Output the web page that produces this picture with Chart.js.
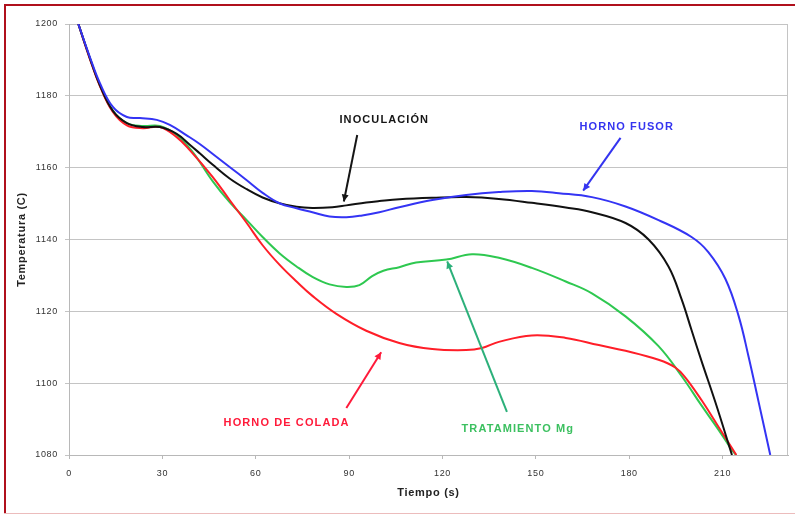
<!DOCTYPE html>
<html><head><meta charset="utf-8">
<script src="https://cdn.jsdelivr.net/npm/chart.js@4.4.1/dist/chart.umd.min.js"></script>
<style>html,body{margin:0;padding:0;background:#fff;overflow:hidden}canvas{display:block}</style>
</head><body><canvas id="c" width="795" height="514"></canvas>
<script>
// ---- axis ticks ----
const xTicks = [0, 30, 60, 90, 120, 150, 180, 210];
const yTicks = [1080, 1100, 1120, 1140, 1160, 1180, 1200];

// ---- HORNO FUSOR (blue) ----
const fusorTime = [3, 6.7, 9.9, 14.1, 18.6, 22.8, 28.2, 32.4, 37.8, 42, 46.2, 51.6, 57.1, 62.2, 67.6, 73.1, 78.2, 83.7, 89.1, 94.2, 99.7, 106.1, 116.7, 127.6, 138.1, 148.7, 157.4, 168, 178.8, 189.4, 200, 205.4, 210.9, 215.1, 218.3, 221.5, 225.3];
const fusorTemp = [1200, 1190.8, 1183.6, 1176.9, 1174.1, 1173.8, 1173.3, 1171.9, 1169.0, 1166.6, 1163.8, 1160.2, 1156.5, 1153.0, 1150.1, 1148.7, 1147.6, 1146.4, 1146.2, 1146.7, 1147.6, 1149.0, 1151.0, 1152.4, 1153.2, 1153.5, 1152.9, 1151.8, 1149.2, 1145.4, 1140.7, 1136.5, 1129.0, 1118.8, 1107.5, 1095.0, 1080];

// ---- INOCULACIÓN (black) ----
const inocTime = [3, 6.7, 9.9, 14.1, 18.6, 23.7, 29.2, 34.6, 38.8, 42, 46.2, 51.6, 57.1, 62.2, 67.6, 73.1, 78.2, 84.6, 89.1, 95.5, 99.7, 106.1, 116.7, 127.6, 138.1, 148.7, 159.6, 168, 178.8, 186.2, 192.6, 196.8, 200, 203.2, 207.7, 213];
const inocTemp = [1200, 1190.5, 1183, 1175.8, 1172.4, 1171.3, 1171.3, 1169.4, 1166.4, 1164.0, 1160.8, 1157.0, 1154.0, 1151.7, 1150.1, 1149.1, 1148.8, 1149.0, 1149.5, 1150.3, 1150.7, 1151.2, 1151.6, 1151.8, 1151.3, 1150.2, 1148.9, 1147.6, 1144.6, 1140.0, 1132.5, 1123.4, 1114.8, 1106.2, 1094.6, 1080];

// ---- HORNO DE COLADA (red) ----
const coladaTime = [3, 6.7, 9.9, 14.1, 18.6, 23.7, 29.2, 34.6, 38.8, 46.2, 51.6, 57.1, 62.2, 67.6, 73.1, 78.2, 85.9, 95.5, 106.1, 116.7, 127.6, 132.7, 138.1, 148.7, 159.6, 170.2, 178.8, 189.4, 194.9, 198.1, 203.2, 208.7, 214.4];
const coladaTemp = [1200, 1190.3, 1182.8, 1175.5, 1171.8, 1171.0, 1171.3, 1168.5, 1164.9, 1157.4, 1151.0, 1144.6, 1138.4, 1133.0, 1128.3, 1124.3, 1119.3, 1114.6, 1111.2, 1109.5, 1109.2, 1109.8, 1111.5, 1113.3, 1112.6, 1110.6, 1109.0, 1106.5, 1104.3, 1101.5, 1095.3, 1087.8, 1080];

// ---- TRATAMIENTO Mg (green) ----
const tratTime = [3, 6.7, 9.9, 14.1, 18.6, 23.7, 29.2, 34.6, 39.7, 46.2, 51.6, 57.1, 62.2, 67.6, 73.1, 78.2, 83.7, 89.1, 93.3, 97.4, 101, 106.1, 111.5, 121.2, 129.5, 138.1, 148.7, 159.6, 168, 178.8, 189.4, 196.8, 203.2, 208.7, 212.8, 214.3];
const tratTemp = [1200, 1190.5, 1183, 1175.8, 1172.4, 1171.6, 1171.6, 1169.1, 1164.4, 1156.2, 1150.4, 1145.4, 1140.7, 1136.2, 1132.5, 1129.6, 1127.5, 1126.8, 1127.3, 1129.8, 1131.3, 1132.3, 1133.6, 1134.4, 1135.9, 1134.9, 1132.1, 1128.3, 1125.0, 1118.6, 1110.3, 1102.0, 1093.8, 1087.0, 1081.6, 1080];

// ---- series names / colours ----
const seriesNames = ['HORNO FUSOR', 'INOCULACIÓN', 'HORNO DE COLADA', 'TRATAMIENTO Mg'];
const seriesColors = ['#3434f4', '#111111', '#ff1e28', '#2ec850'];

function pts(t, v) { return t.map((x, i) => ({ x: x, y: v[i] })); }

// annotation labels (data coordinates)
const notes = [
  { text: 'INOCULACIÓN', color: '#151515', at: [101.3, 1173.3], from: [92.6, 1169.1], to: [88.3, 1150.6] },
  { text: 'HORNO FUSOR', color: '#3434f0', at: [179.2, 1171.3], from: [177.2, 1168.3], to: [165.2, 1153.6] },
  { text: 'HORNO DE COLADA', color: '#ff1a3a', at: [69.9, 1088.9], from: [89.1, 1093.1], to: [100.3, 1108.6] },
  { text: 'TRATAMIENTO Mg', color: '#3cc060', at: [144.2, 1087.2], from: [140.7, 1092.0], to: [121.5, 1133.9], lineColor: '#2cb07a' }
];

const framePlugin = {
  id: 'frame',
  beforeDraw(chart) {
    const c = chart.ctx;
    c.save();
    c.fillStyle = '#ffffff';
    c.fillRect(0, 0, chart.width, chart.height);
    c.fillStyle = '#b0101c';
    c.fillRect(4, 4, chart.width - 4, 2);
    c.fillRect(4, 4, 2, chart.height - 4);
    c.fillStyle = '#ecbcbc';
    c.fillRect(4, chart.height - 1, chart.width - 4, 1);
    c.restore();
    c.letterSpacing = '0.7px';
  },
  beforeDatasetsDraw(chart) {
    const c = chart.ctx, a = chart.chartArea;
    c.save();
    c.strokeStyle = '#c4c4c4';
    c.lineWidth = 1;
    c.beginPath();
    c.moveTo(Math.round(a.right) - 0.5, a.top);
    c.lineTo(Math.round(a.right) - 0.5, a.bottom);
    c.stroke();
    c.restore();
  },
  afterDatasetsDraw(chart) {
    const c = chart.ctx, xs = chart.scales.x, ys = chart.scales.y;
    c.save();
    c.font = 'bold 11px "Liberation Sans", Arial, sans-serif';
    c.letterSpacing = '1.1px';
    c.textAlign = 'center';
    c.textBaseline = 'middle';
    notes.forEach(n => {
      const x0 = xs.getPixelForValue(n.from[0]), y0 = ys.getPixelForValue(n.from[1]);
      const x1 = xs.getPixelForValue(n.to[0]), y1 = ys.getPixelForValue(n.to[1]);
      const col = n.lineColor || n.color;
      c.strokeStyle = col; c.fillStyle = col; c.lineWidth = 2;
      c.beginPath(); c.moveTo(x0, y0); c.lineTo(x1, y1); c.stroke();
      const ang = Math.atan2(y1 - y0, x1 - x0), L = 7, W = 3.5;
      c.beginPath();
      c.moveTo(x1, y1);
      c.lineTo(x1 - L * Math.cos(ang) + W * Math.sin(ang), y1 - L * Math.sin(ang) - W * Math.cos(ang));
      c.lineTo(x1 - L * Math.cos(ang) - W * Math.sin(ang), y1 - L * Math.sin(ang) + W * Math.cos(ang));
      c.closePath(); c.fill();
      c.fillStyle = n.color;
      c.fillText(n.text, xs.getPixelForValue(n.at[0]), ys.getPixelForValue(n.at[1]));
    });
    c.restore();
  }
};

const seriesData = [pts(fusorTime, fusorTemp), pts(inocTime, inocTemp), pts(coladaTime, coladaTemp), pts(tratTime, tratTemp)];

new Chart(document.getElementById('c'), {
  type: 'line',
  data: {
    datasets: seriesNames.map((name, i) => ({
      label: name,
      data: seriesData[i],
      borderColor: seriesColors[i],
      backgroundColor: seriesColors[i],
      borderWidth: 2,
      pointRadius: 0,
      fill: false,
      tension: 0.4
    }))
  },
  options: {
    responsive: false,
    animation: false,
    events: [],
    layout: { padding: { left: 0, right: 7, top: 24, bottom: 0 } },
    plugins: { legend: { display: false }, tooltip: { enabled: false } },
    scales: {
      x: {
        type: 'linear', min: 0, max: 231,
        afterBuildTicks: s => { s.ticks = xTicks.map(v => ({ value: v })); },
        afterFit: s => { s.height = 59; },
        grid: { drawOnChartArea: false, drawTicks: true, tickLength: 4, color: '#b8b8b8' },
        border: { color: '#b8b8b8' },
        ticks: { padding: 9, color: '#333', callback: v => String(v), font: { family: '"Liberation Sans", Arial, sans-serif', size: 9 }, maxRotation: 0 },
        title: { display: true, text: 'Tiempo (s)', color: '#222', padding: { top: 0, bottom: 14 }, font: { family: '"Liberation Sans", Arial, sans-serif', size: 11, weight: 'bold' } }
      },
      y: {
        type: 'linear', min: 1080, max: 1200,
        afterBuildTicks: s => { s.ticks = yTicks.map(v => ({ value: v })); },
        afterFit: s => { s.width = 69; },
        grid: { color: '#c4c4c4', tickLength: 4 },
        border: { color: '#b8b8b8' },
        ticks: { padding: 7, color: '#333', callback: v => String(v), font: { family: '"Liberation Sans", Arial, sans-serif', size: 9 } },
        title: { display: true, text: 'Temperatura (C)', color: '#222', padding: { top: 15, bottom: 0 }, font: { family: '"Liberation Sans", Arial, sans-serif', size: 11, weight: 'bold' } }
      }
    }
  },
  plugins: [framePlugin]
});
</script>
</body></html>
